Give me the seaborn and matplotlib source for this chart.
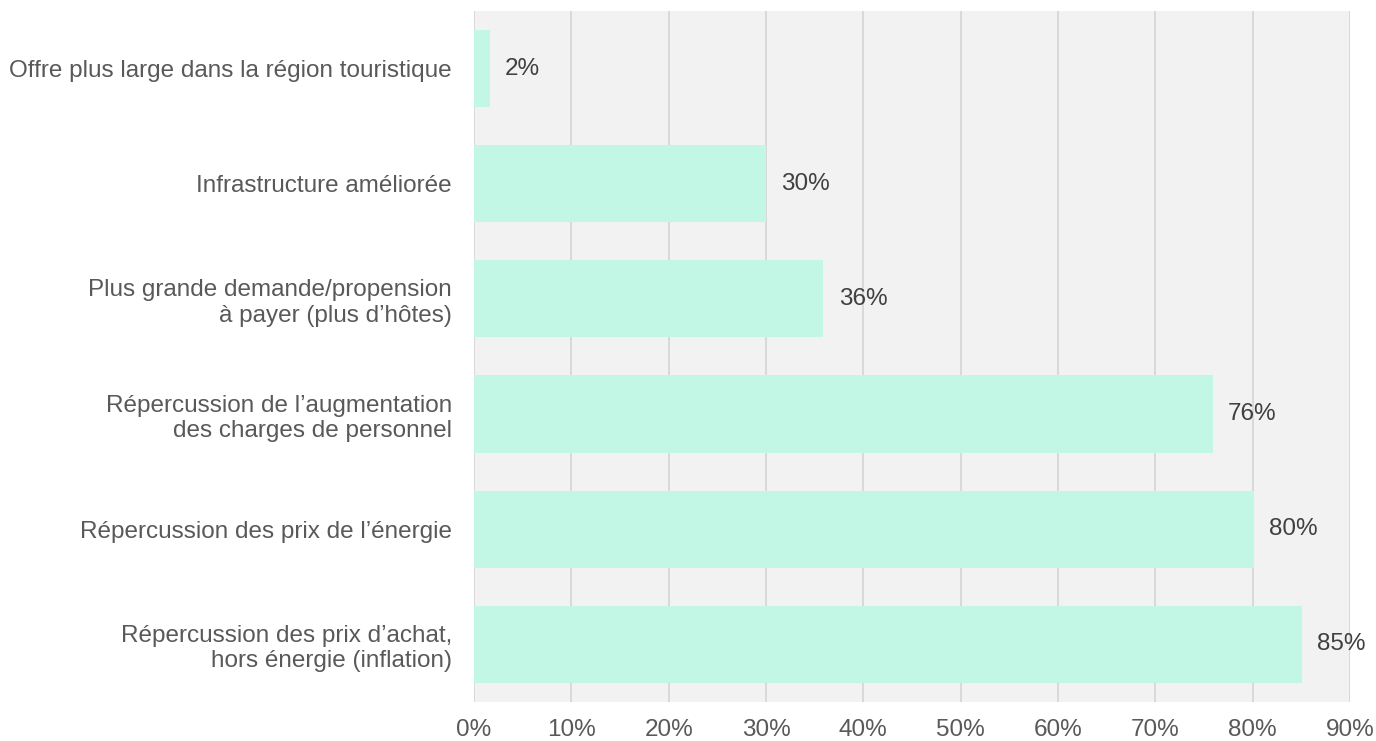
import matplotlib
matplotlib.use("Agg")
import matplotlib.pyplot as plt
import seaborn as sns
import pandas as pd
from matplotlib.ticker import PercentFormatter

categories = [
    "Offre plus large dans la région touristique",
    "Infrastructure améliorée",
    "Plus grande demande/propension\nà payer (plus d\u2019hôtes)",
    "Répercussion de l\u2019augmentation\ndes charges de personnel",
    "Répercussion des prix de l\u2019énergie",
    "Répercussion des prix d\u2019achat,\nhors énergie (inflation)",
]
values = [1.6, 30.0, 35.9, 75.9, 80.1, 85.1]
value_labels = ["2%", "30%", "36%", "76%", "80%", "85%"]

df = pd.DataFrame({"cat": categories, "val": values})

sns.set_style("white")
plt.rcParams["font.family"] = ["Liberation Sans", "DejaVu Sans"]

fig = plt.figure(figsize=(13.76, 7.41), dpi=100)
ax = fig.add_axes([0.3445, 0.0526, 0.6365, 0.9326])
ax.set_facecolor("#f2f2f2")

sns.barplot(data=df, x="val", y="cat", color="#c2f7e6", saturation=1,
            width=0.67, linewidth=0, ax=ax, zorder=3)

ax.set_xlim(0, 90)
ax.set_ylim(5.5, -0.5)
ax.set_xticks(range(0, 91, 10))
ax.xaxis.set_major_formatter(PercentFormatter(decimals=0))
ax.grid(axis="x", color="#d9d9d9", linewidth=1.4, zorder=0)
ax.set_axisbelow(True)
for s in ax.spines.values():
    s.set_visible(False)

ax.tick_params(axis="x", length=0, pad=12, labelsize=17.5, labelcolor="#595959")
ax.tick_params(axis="y", length=0, pad=16, labelsize=17.5, labelcolor="#595959")
ax.set_xlabel("")
ax.set_ylabel("")

ax.bar_label(ax.containers[0], labels=value_labels, padding=11,
             fontsize=17.5, color="#404040")

fig.savefig("out.png", dpi=100)
